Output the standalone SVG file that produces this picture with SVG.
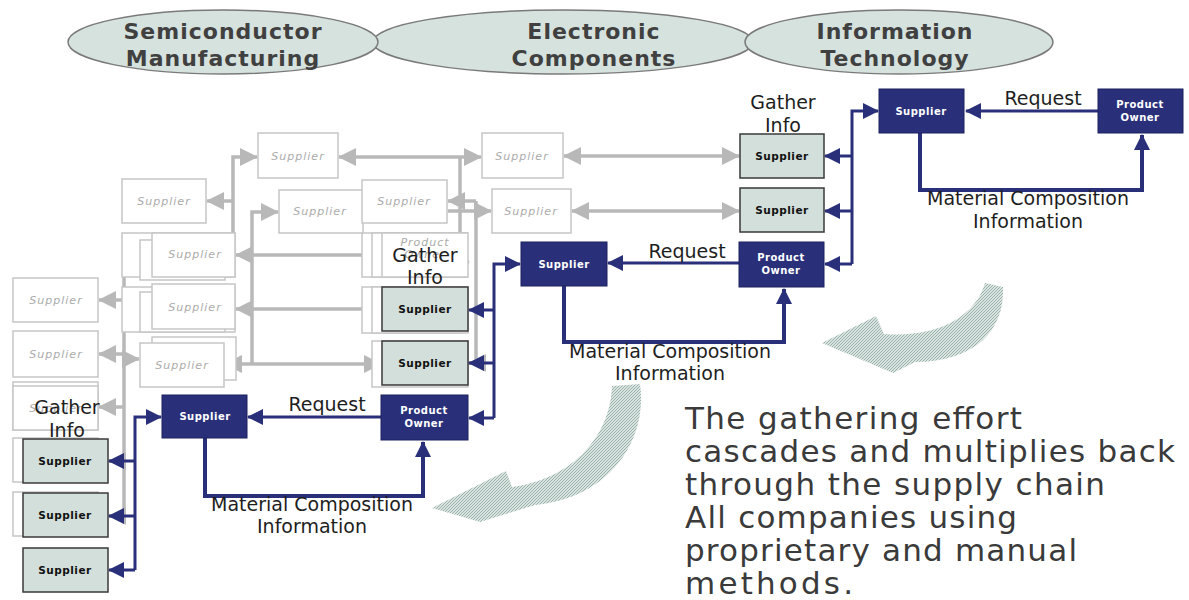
<svg xmlns="http://www.w3.org/2000/svg" width="1189" height="600" viewBox="0 0 1189 600">
<style>
.ell{fill:#d6e2de;stroke:#7a7a7a;stroke-width:1.5}
.ttl{font-family:"DejaVu Sans",sans-serif;font-weight:bold;font-size:22px;fill:#404040;text-anchor:middle;letter-spacing:1px}
.navy{fill:#2a2f7a;stroke:#1c2060;stroke-width:1}
.lite{fill:#d3dfdb;stroke:#3a3a3a;stroke-width:1.5}
.nt{font-family:"DejaVu Sans",sans-serif;font-weight:bold;font-size:10px;fill:#ffffff;text-anchor:middle;letter-spacing:0.5px}
.lt{font-family:"DejaVu Sans",sans-serif;font-weight:bold;font-size:10.5px;fill:#111;text-anchor:middle;letter-spacing:0.5px}
.gr{fill:#ffffff;stroke:#c6c6c6;stroke-width:1.5}
.gt{font-family:"DejaVu Sans",sans-serif;font-style:italic;font-size:11px;fill:#ababab;text-anchor:middle;letter-spacing:1px}
.lbl{font-family:"DejaVu Sans",sans-serif;font-size:19px;fill:#1e1e1e;text-anchor:middle}
.par{font-family:"DejaVu Sans",sans-serif;font-size:31px;fill:#3a3a3a}
.bl{fill:none;stroke:#2a2f7a;stroke-width:3}
.blt{fill:none;stroke:#2a2f7a;stroke-width:4}
.ga{fill:none;stroke:#b8b8b8;stroke-width:3.5}
</style>
<defs>
<marker id="ab" markerUnits="userSpaceOnUse" markerWidth="16" markerHeight="16" refX="15" refY="8" orient="auto"><path d="M0,0 L16,8 L0,16 z" fill="#2a2f7a"/></marker>
<marker id="ag" markerUnits="userSpaceOnUse" markerWidth="18" markerHeight="18" refX="17" refY="9" orient="auto-start-reverse"><path d="M0,0 L18,9 L0,18 z" fill="#b8b8b8"/></marker>
<pattern id="hatch" patternUnits="userSpaceOnUse" width="3" height="3">
<rect width="3" height="3" fill="#d9e4e0"/>
<path d="M0,3 L3,0" stroke="#94aca5" stroke-width="0.9"/>
</pattern>
</defs>

<!-- Industry ellipses -->
<g id="industries">
<ellipse class="ell" cx="563" cy="42" rx="190" ry="32"/>
<ellipse class="ell" cx="223" cy="42" rx="155" ry="32"/>
<ellipse class="ell" cx="899" cy="42" rx="154" ry="32"/>
<text class="ttl" x="223" y="39">Semiconductor</text>
<text class="ttl" x="223" y="66">Manufacturing</text>
<text class="ttl" x="594" y="39">Electronic</text>
<text class="ttl" x="594" y="66">Components</text>
<text class="ttl" x="895" y="39">Information</text>
<text class="ttl" x="895" y="66">Technology</text>
</g>

<!-- Ghost (multiplied) supply chain -->
<g id="ghost-connectors">
<path class="ga" d="M233,233 V157 H257" marker-end="url(#ag)"/>
<path class="ga" d="M233,201 H207" marker-end="url(#ag)"/>
<path class="ga" d="M252,365 V212 H278" marker-end="url(#ag)"/>
<path class="ga" d="M339,157 H481" marker-start="url(#ag)" marker-end="url(#ag)"/>
<path class="ga" d="M460,157 V262"/>
<path class="ga" d="M476,201 V365"/>
<path class="ga" d="M476,201 H448" marker-end="url(#ag)"/>
<path class="ga" d="M448,211 H491" marker-end="url(#ag)"/>
<path class="ga" d="M564,156 H739" marker-start="url(#ag)" marker-end="url(#ag)"/>
<path class="ga" d="M572,211 H739" marker-start="url(#ag)" marker-end="url(#ag)"/>
<path class="ga" d="M236,255 H381" marker-start="url(#ag)" marker-end="url(#ag)"/>
<path class="ga" d="M236,309 H381" marker-start="url(#ag)" marker-end="url(#ag)"/>
<path class="ga" d="M225,364 H381" marker-start="url(#ag)" marker-end="url(#ag)"/>
<path class="ga" d="M460,262 H469" marker-end="url(#ag)"/>
<path class="ga" d="M476,363 H469" marker-end="url(#ag)"/>
<path class="ga" d="M124,233 V512"/>
<path class="ga" d="M124,255 H151" marker-end="url(#ag)"/>
<path class="ga" d="M124,307 H151" marker-end="url(#ag)"/>
<path class="ga" d="M124,359 H139" marker-end="url(#ag)"/>
<path class="ga" d="M124,300 H99" marker-end="url(#ag)"/>
<path class="ga" d="M124,354 H99" marker-end="url(#ag)"/>
<path class="ga" d="M124,407 H99" marker-end="url(#ag)"/>
<path class="ga" d="M124,461 H109" marker-end="url(#ag)"/>
<path class="ga" d="M124,516 H109" marker-end="url(#ag)"/>
</g>
<g id="ghost-nodes">
<g id="g-a"><rect class="gr" x="258" y="133" width="80" height="45"/><text class="gt" x="298" y="160">Supplier</text></g>
<g id="g-b"><rect class="gr" x="122" y="179" width="84" height="44"/><text class="gt" x="164" y="205">Supplier</text></g>
<g id="g-c"><rect class="gr" x="279" y="190" width="84" height="43"/><text class="gt" x="320" y="215">Supplier</text></g>
<g id="g-d"><rect class="gr" x="362" y="180" width="85" height="43"/><text class="gt" x="404" y="205">Supplier</text></g>
<g id="g-h"><rect class="gr" x="482" y="133" width="81" height="45"/><text class="gt" x="522" y="160">Supplier</text></g>
<g id="g-i"><rect class="gr" x="492" y="189" width="79" height="44"/><text class="gt" x="531" y="215">Supplier</text></g>
<g id="g-r1"><rect class="gr" x="122" y="233" width="113" height="44"/><rect class="gr" x="140" y="240" width="85" height="40"/><rect class="gr" x="152" y="233" width="83" height="44"/><text class="gt" x="195" y="258">Supplier</text></g>
<g id="g-r2"><rect class="gr" x="122" y="287" width="113" height="45"/><rect class="gr" x="140" y="292" width="85" height="40"/><rect class="gr" x="152" y="284" width="83" height="45"/><text class="gt" x="195" y="311">Supplier</text></g>
<g id="g-r3"><rect class="gr" x="152" y="337" width="84" height="43"/><rect class="gr" x="140" y="343" width="84" height="44"/><text class="gt" x="182" y="369">Supplier</text></g>
<g id="g-p1"><rect class="gr" x="362" y="233" width="105" height="44"/><rect class="gr" x="372" y="233" width="95" height="44"/><rect class="gr" x="382" y="233" width="86" height="44"/><text class="gt" x="425" y="246" font-size="10">Product</text><text class="gt" x="425" y="258" font-size="10">Owner</text></g>
<g id="g-p2"><rect class="gr" x="362" y="287" width="100" height="46"/><rect class="gr" x="372" y="287" width="96" height="46"/></g>
<g id="g-p3"><rect class="gr" x="372" y="341" width="96" height="46"/></g>
<g id="g-l1"><rect class="gr" x="13" y="278" width="85" height="44"/><text class="gt" x="56" y="304">Supplier</text></g>
<g id="g-l2"><rect class="gr" x="13" y="331" width="85" height="46"/><text class="gt" x="56" y="358">Supplier</text></g>
<g id="g-l3"><rect class="gr" x="13" y="382" width="85" height="48"/><rect class="gr" x="13" y="386" width="85" height="44"/><text class="gt" x="56" y="412">Supplier</text></g>
<g id="g-l4"><rect class="gr" x="13" y="438" width="85" height="44"/></g>
<g id="g-l5"><rect class="gr" x="13" y="492" width="85" height="44"/></g>
</g>

<!-- Cascade arrows -->
<g id="cascade-arrows">
<path d="M1003,287 C1005,330 975,362 915,362 L893,373 L822,343 L876,316 L884,334 C935,338 975,318 985,283 Z" fill="url(#hatch)"/>
<path d="M640,384 C648,440 610,498 535,505 L480,522 L432,508 L506,471 L512,487 C568,480 610,440 612,386 Z" fill="url(#hatch)"/>
</g>

<!-- Real connectors -->
<g id="connectors">
<path class="bl" d="M1098,111 H966" marker-end="url(#ab)"/>
<path class="blt" d="M920,133 V190 H1142 V135" marker-end="url(#ab)"/>
<path class="bl" d="M852,264 V111 H878" marker-end="url(#ab)"/>
<path class="bl" d="M852,156 H825" marker-end="url(#ab)"/>
<path class="bl" d="M852,211 H825" marker-end="url(#ab)"/>
<path class="bl" d="M852,264 H825" marker-end="url(#ab)"/>

<path class="bl" d="M739,263 H608" marker-end="url(#ab)"/>
<path class="blt" d="M564,286 V342 H784 V289" marker-end="url(#ab)"/>
<path class="bl" d="M494,418 V264 H520" marker-end="url(#ab)"/>
<path class="bl" d="M494,310 H469" marker-end="url(#ab)"/>
<path class="bl" d="M494,363 H469" marker-end="url(#ab)"/>
<path class="bl" d="M494,418 H469" marker-end="url(#ab)"/>

<path class="bl" d="M381,417 H248" marker-end="url(#ab)"/>
<path class="blt" d="M205,438 V496 H423 V442" marker-end="url(#ab)"/>
<path class="bl" d="M135,570 V417 H161" marker-end="url(#ab)"/>
<path class="bl" d="M135,461 H109" marker-end="url(#ab)"/>
<path class="bl" d="M135,516 H109" marker-end="url(#ab)"/>
<path class="bl" d="M135,570 H109" marker-end="url(#ab)"/>
</g>

<!-- Information Technology tier -->
<g id="it-supplier"><rect class="navy" x="879" y="89" width="85" height="44"/><text class="nt" x="921" y="115">Supplier</text></g>
<g id="it-product-owner"><rect class="navy" x="1098" y="89" width="85" height="44"/><text class="nt" x="1140" y="108">Product</text><text class="nt" x="1140" y="121">Owner</text></g>
<g id="it-gather-1"><rect class="lite" x="740" y="134" width="84" height="44"/><text class="lt" x="782" y="160">Supplier</text></g>
<g id="it-gather-2"><rect class="lite" x="740" y="188" width="84" height="44"/><text class="lt" x="782" y="214">Supplier</text></g>

<!-- Electronic Components tier -->
<g id="ec-supplier"><rect class="navy" x="521" y="242" width="86" height="44"/><text class="nt" x="564" y="268">Supplier</text></g>
<g id="ec-product-owner"><rect class="navy" x="739" y="242" width="85" height="45"/><text class="nt" x="781" y="261">Product</text><text class="nt" x="781" y="274">Owner</text></g>
<g id="ec-gather-1"><rect class="lite" x="382" y="287" width="86" height="44"/><text class="lt" x="425" y="313">Supplier</text></g>
<g id="ec-gather-2"><rect class="lite" x="382" y="341" width="86" height="44"/><text class="lt" x="425" y="367">Supplier</text></g>

<!-- Semiconductor tier -->
<g id="sm-supplier"><rect class="navy" x="162" y="395" width="85" height="43"/><text class="nt" x="205" y="420">Supplier</text></g>
<g id="sm-product-owner"><rect class="navy" x="381" y="395" width="87" height="45"/><text class="nt" x="424" y="414">Product</text><text class="nt" x="424" y="427">Owner</text></g>
<g id="sm-gather-1"><rect class="lite" x="23" y="439" width="85" height="44"/><text class="lt" x="65" y="465">Supplier</text></g>
<g id="sm-gather-2"><rect class="lite" x="23" y="493" width="85" height="44"/><text class="lt" x="65" y="519">Supplier</text></g>
<g id="sm-gather-3"><rect class="lite" x="23" y="548" width="85" height="44"/><text class="lt" x="65" y="574">Supplier</text></g>

<!-- Labels -->
<g id="labels">
<text class="lbl" x="783" y="109">Gather</text>
<text class="lbl" x="783" y="132">Info</text>
<text class="lbl" x="1043" y="105">Request</text>
<text class="lbl" x="1028" y="205">Material Composition</text>
<text class="lbl" x="1028" y="228">Information</text>

<text class="lbl" x="425" y="262">Gather</text>
<text class="lbl" x="425" y="284">Info</text>
<text class="lbl" x="687" y="258">Request</text>
<text class="lbl" x="670" y="358">Material Composition</text>
<text class="lbl" x="670" y="380">Information</text>

<text class="lbl" x="67" y="414">Gather</text>
<text class="lbl" x="67" y="437">Info</text>
<text class="lbl" x="327" y="411">Request</text>
<text class="lbl" x="312" y="511">Material Composition</text>
<text class="lbl" x="312" y="533">Information</text>
</g>

<g id="note">
<text class="par" x="685" y="429" textLength="337" lengthAdjust="spacing">The gathering effort</text>
<text class="par" x="685" y="462" textLength="490" lengthAdjust="spacing">cascades and multiplies back</text>
<text class="par" x="685" y="495" textLength="420" lengthAdjust="spacing">through the supply chain</text>
<text class="par" x="685" y="528" textLength="332" lengthAdjust="spacing">All companies using</text>
<text class="par" x="685" y="561" textLength="392" lengthAdjust="spacing">proprietary and manual</text>
<text class="par" x="685" y="594" textLength="168" lengthAdjust="spacing">methods.</text>
</g>
</svg>
